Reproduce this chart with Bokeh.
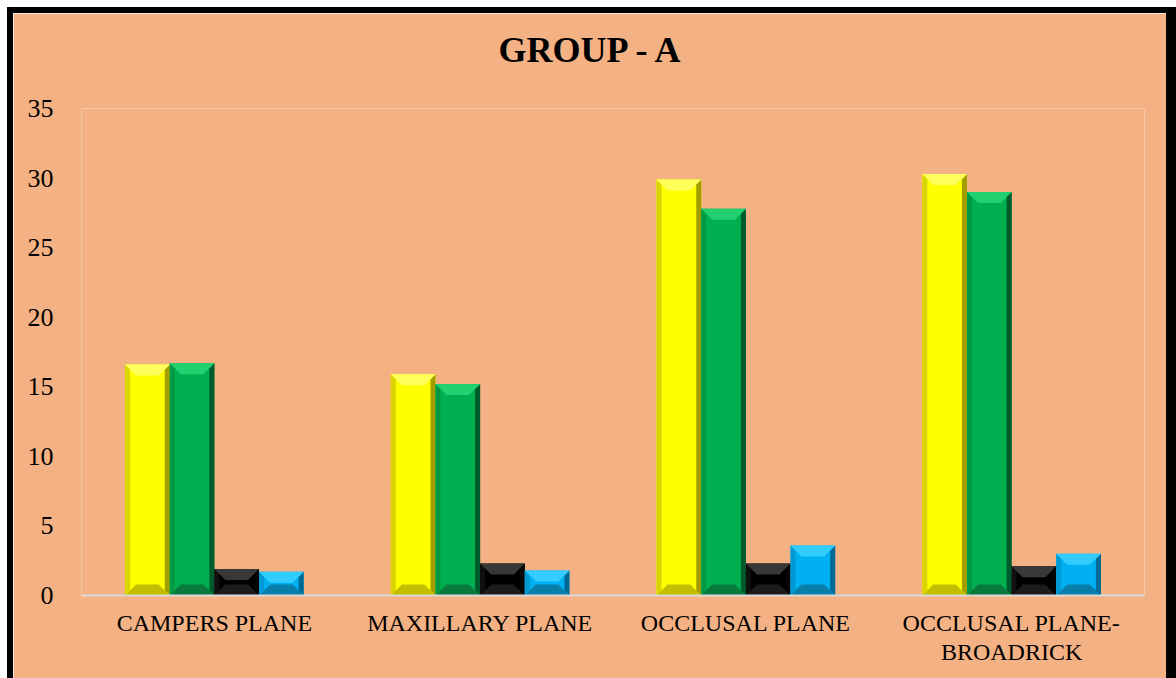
from bokeh.plotting import figure
from bokeh.models import FixedTicker, Range1d, Title
from bokeh.embed import file_html
from bokeh.resources import INLINE

categories = ["CAMPERS PLANE", "MAXILLARY PLANE", "OCCLUSAL PLANE", "OCCLUSAL PLANE-\nBROADRICK"]
series_yellow = [16.6, 15.9, 29.9, 30.3]
series_green = [16.7, 15.2, 27.8, 29.0]
series_black = [1.9, 2.3, 2.3, 2.1]
series_blue = [1.7, 1.8, 3.6, 3.0]
y_ticks = [0, 5, 10, 15, 20, 25, 30, 35]

PEACH = "#F4B183"
OFF = 13                        # white strip (7px) + black border (6px) on top/left
W, H = 1176 - OFF - 10, 678 - OFF
CW, CH = W + 16, H + 6          # canvas size (host box incl. borders)
FL, FR, FT, FB = 81 - OFF, 1144 - OFF, 108 - OFF, 595 - OFF  # frame edges in canvas px

p = figure(width=W, height=H, output_backend="svg", toolbar_location=None,
           x_range=Range1d(0, len(categories)), y_range=Range1d(0, 35),
           min_border_left=FL, min_border_right=CW - FR, min_border_top=FT,
           min_border_bottom=CH - FB)
p.styles = {"border-left": "6px solid black", "border-top": "6px solid black",
            "border-right": "10px solid black", "border-bottom": "0px none",
            "box-sizing": "content-box",
            "margin-left": "7px", "margin-top": "7px"}
p.background_fill_color = PEACH
p.border_fill_color = PEACH
p.outline_line_color = None
p.grid.visible = False

xs_px = (FR - FL) / len(categories)
ys_px = (FB - FT) / 35.0

bar_w = 0.168
styles = [
    (series_yellow, dict(main="#FFFF00", top="#FFFF5C", bot="#C2BE00", left="#D9D500", right="#A39E00")),
    (series_green, dict(main="#00B050", top="#22D070", bot="#087A3C", left="#009A46", right="#005A2C")),
    (series_black, dict(main="#000000", top="#383838", bot="#1C1C1C", left="#101010", right="#050505")),
    (series_blue, dict(main="#00B0F0", top="#33CCFF", bot="#0A7EAA", left="#0099D4", right="#006A94")),
]

B = 11.0   # bevel depth in px (45 degree corners)
SIDE = 5.0
for si, (vals, c) in enumerate(styles):
    off = (si - 1.5) * bar_w
    centers = [i + 0.5 + off for i in range(len(vals))]
    p.vbar(x=centers, top=vals, bottom=0, width=bar_w, fill_color=c["main"], line_color=None)
    tops, bots, lefts, rights = [[], []], [[], []], [[], []], [[], []]
    for xc, v in zip(centers, vals):
        x0, x1 = xc - bar_w / 2, xc + bar_w / 2
        hpx = v * ys_px
        b_px = min(B, hpx / 2)
        by = b_px / ys_px
        bx = b_px / xs_px
        sx = SIDE / xs_px
        sy = min(SIDE, hpx / 2) / ys_px
        y0, y1 = 0, v
        tops[0].append([x0, x1, x1 - bx, x0 + bx]); tops[1].append([y1, y1, y1 - by, y1 - by])
        bots[0].append([x0, x1, x1 - bx, x0 + bx]); bots[1].append([y0, y0, y0 + by, y0 + by])
        lefts[0].append([x0, x0 + sx, x0 + sx, x0]); lefts[1].append([y0, y0 + sy, y1 - sy, y1])
        rights[0].append([x1, x1 - sx, x1 - sx, x1]); rights[1].append([y0, y0 + sy, y1 - sy, y1])
    p.patches(xs=lefts[0], ys=lefts[1], fill_color=c["left"], line_color=None)
    p.patches(xs=rights[0], ys=rights[1], fill_color=c["right"], line_color=None)
    p.patches(xs=bots[0], ys=bots[1], fill_color=c["bot"], line_color=None)
    p.patches(xs=tops[0], ys=tops[1], fill_color=c["top"], line_color=None)

# axes
p.xaxis.ticker = FixedTicker(ticks=[i + 0.5 for i in range(len(categories))])
p.xaxis.major_label_overrides = {i + 0.5: cat for i, cat in enumerate(categories)}
p.xaxis.axis_line_color = "#D9D9D9"
p.xaxis.axis_line_width = 2
p.xaxis.major_tick_line_color = None
p.xaxis.minor_tick_line_color = None
p.xaxis.major_label_standoff = 8
p.xaxis.major_label_text_font = "Liberation Serif"
p.xaxis.major_label_text_font_size = "24px"
p.xaxis.major_label_text_line_height = 1.15
p.xaxis.major_label_text_color = "#000000"

p.yaxis.ticker = FixedTicker(ticks=y_ticks)
p.yaxis.axis_line_color = None
p.yaxis.major_tick_line_color = None
p.yaxis.minor_tick_line_color = None
p.yaxis.major_label_standoff = 22
p.yaxis.major_label_text_font = "Liberation Serif"
p.yaxis.major_label_text_font_size = "26px"
p.yaxis.major_label_text_color = "#000000"

# spacer between frame and title
p.add_layout(Title(text=" ", text_font_size="1px", standoff=36), "above")

# title
p.title.text = "GROUP - A"
p.title.align = "left"
p.title.offset = 498 - 81
p.title.standoff = 0
p.title.text_font = "Liberation Serif"
p.title.text_font_size = "36px"
p.title.text_font_style = "bold"
p.title.text_color = "#000000"

open("out.html", "w").write(file_html(p, INLINE))
